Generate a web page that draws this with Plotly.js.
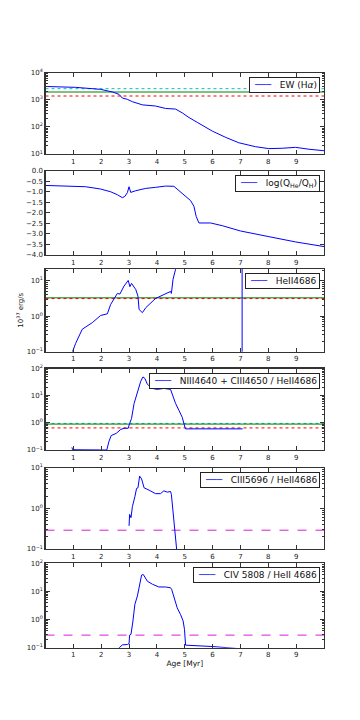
<!DOCTYPE html>
<html>
<head>
<meta charset="utf-8">
<script src="https://cdn.plot.ly/plotly-3.0.1.min.js"></script>
<style>
  html, body { margin: 0; padding: 0; background: #fff; }
  #plot { width: 360px; height: 720px; }
</style>
</head>
<body>
<div id="plot"></div>
<script>
// panel 1: EW(Halpha)
var ewAge = [0, 1.08, 1.98, 2.4, 2.64, 2.76, 2.94, 3.12, 3.48, 3.95, 4.31, 4.67, 4.91, 5.15, 5.45, 5.75, 5.99, 6.47, 6.94, 7.54, 8.02, 8.5, 8.98, 9.46, 10];
var ewVal = [3100, 2880, 2430, 1950, 1590, 1160, 1040, 850, 650, 590, 480, 455, 330, 222, 147, 100, 70, 41, 26, 18.6, 15.8, 16.3, 17.6, 15, 13.2];
var ewLines = [2570, 1940, 1380]; // cyan, green, red

// panel 2: log(Q_He/Q_H)
var qAge = [0, 1.08, 1.44, 1.98, 2.34, 2.58, 2.76, 2.85, 2.94, 3.0, 3.06, 3.24, 3.6, 3.95, 4.31, 4.61, 4.79, 5.03, 5.21, 5.33, 5.41, 5.51, 5.93, 6.35, 7.0, 8.02, 8.98, 10];
var qVal = [-0.70, -0.73, -0.76, -0.87, -1.0, -1.14, -1.28, -1.22, -1.04, -0.76, -1.03, -0.95, -0.84, -0.79, -0.73, -0.74, -0.95, -1.19, -1.42, -1.69, -2.17, -2.48, -2.48, -2.61, -2.86, -3.13, -3.38, -3.6];

// panel 3: HeII4686 luminosity
var heAge = [0.97, 1.08, 1.32, 1.68, 1.98, 2.22, 2.34, 2.5, 2.58, 2.67, 2.82, 2.97, 3.03, 3.09, 3.24, 3.32, 3.36, 3.48, 3.6, 3.95, 4.31, 4.49, 4.52, 4.58, 4.67, 4.8, 5.5, 6.5, 7.06, 7.06];
var heVal = [0.1, 0.17, 0.43, 0.66, 1.05, 1.17, 2.15, 3.3, 4.4, 4.2, 7.1, 10.2, 6.8, 8.4, 5.7, 3.7, 1.55, 1.26, 1.74, 3.16, 4.3, 5.0, 4.4, 11, 21, 40, 80, 90, 90, 0.0001];
var heLines = [3.3, 3.15]; // green, red

// panel 4: (NIII4640 + CIII4650) / HeII4686
var n3Age = [0.95, 0.97, 1.1, 1.5, 2.0, 2.2, 2.28, 2.36, 2.54, 2.70, 2.82, 2.97, 3.02, 3.09, 3.18, 3.30, 3.42, 3.5, 3.57, 3.66, 3.84, 4.01, 4.25, 4.49, 4.55, 4.67, 4.79, 4.91, 5.01, 5.03, 7.08];
var n3Val = [0.125, 0.104, 0.102, 0.101, 0.101, 0.1, 0.21, 0.34, 0.41, 0.57, 0.63, 0.63, 0.95, 1.45, 5.1, 13.8, 34, 49, 43, 26, 18.5, 17, 18.5, 17, 11, 5.2, 2.9, 1.6, 0.66, 0.6, 0.6];
var n3Lines = [0.95, 0.9, 0.65]; // cyan, green, red

// panel 5: CIII5696 / HeII4686
var c3Age = [3.0, 3.02, 3.07, 3.12, 3.21, 3.27, 3.32, 3.38, 3.45, 3.54, 3.72, 3.95, 4.13, 4.25, 4.37, 4.49, 4.52, 4.59, 4.65, 4.71, 4.75];
var c3Val = [0.37, 0.71, 0.59, 1.1, 1.94, 3.1, 3.2, 6.2, 5.3, 3.2, 2.8, 2.3, 2.3, 2.7, 2.5, 2.6, 2.2, 0.69, 0.27, 0.1, 0.05];
var c3Line = 0.29;

// panel 6: CIV5808 / HeII4686
var c4Age = [2.6, 2.76, 2.94, 3.0, 3.02, 3.07, 3.14, 3.21, 3.3, 3.36, 3.45, 3.51, 3.57, 3.66, 3.84, 4.07, 4.31, 4.49, 4.53, 4.61, 4.73, 4.85, 4.94, 4.99, 5.01, 5.03, 6.0, 6.47, 7.1];
var c4Val = [0.09, 0.126, 0.13, 0.14, 0.28, 0.3, 0.89, 3.5, 6.9, 15.5, 38, 40, 32, 23, 18, 14.4, 14.4, 13.5, 11.8, 6.3, 2.6, 1.5, 0.9, 0.45, 0.125, 0.123, 0.11, 0.1, 0.09];
var c4Line = 0.28;

var ageTicks = [1, 2, 3, 4, 5, 6, 7, 8, 9];
var qTicks = [0, -0.5, -1, -1.5, -2, -2.5, -3, -3.5, -4];

var legendNames = ['EW (H<i>α</i>)', 'log(Q<sub>He</sub>/Q<sub>H</sub>)', 'HeII4686',
    'NIII4640 + CIII4650 / HeII4686', 'CIII5696 / HeII4686', 'CIV 5808 / HeII 4686'];

var BLUE = '#0000ff', CYAN = '#00bfbf', GREEN = '#008000', RED = '#ff0000', MAG = '#d61ed6';

function sfx(i) { return i === 1 ? '' : String(i); }

function curve(i, x, y) {
    return {
        x: x, y: y, type: 'scatter', mode: 'lines',
        xaxis: 'x' + sfx(i), yaxis: 'y' + sfx(i),
        line: {color: BLUE, width: 1},
        name: legendNames[i - 1], showlegend: false
    };
}

function hline(i, val, color, dash) {
    return {
        x: [0, 10], y: [val, val], type: 'scatter', mode: 'lines',
        xaxis: 'x' + sfx(i), yaxis: 'y' + sfx(i),
        line: {color: color, width: 1, dash: dash},
        showlegend: false, hoverinfo: 'skip'
    };
}

var data = [
    hline(1, ewLines[0], CYAN, 'dot'), hline(1, ewLines[1], GREEN, 'solid'), hline(1, ewLines[2], RED, 'dot'),
    curve(1, ewAge, ewVal),
    curve(2, qAge, qVal),
    hline(3, heLines[0], GREEN, 'solid'), hline(3, heLines[1], RED, 'dot'),
    curve(3, heAge, heVal),
    hline(4, n3Lines[0], CYAN, 'dot'), hline(4, n3Lines[1], GREEN, 'solid'), hline(4, n3Lines[2], RED, 'dot'),
    curve(4, n3Age, n3Val),
    hline(5, c3Line, MAG, 'dash'),
    curve(5, c3Age, c3Val),
    hline(6, c4Line, MAG, 'dash'),
    curve(6, c4Age, c4Val)
];

// panel boxes in pixels (top, bottom)
var panels = [[72.7, 154], [170.7, 255], [268.7, 351.7], [368.5, 450], [467.7, 549], [563.3, 647.7]];
var yRanges = [[1, 4], [-4, 0], [-1, 1.34], [-1, 2], [-1, 1], [-1, 2]];
var yLog = [true, false, true, true, true, true];

var tickFont = {family: 'DejaVu Sans', size: 7, color: '#222'};
var layout = {
    width: 360, height: 720,
    margin: {l: 0, r: 0, t: 0, b: 0},
    paper_bgcolor: '#fff', plot_bgcolor: '#fff',
    font: {family: 'DejaVu Sans', size: 8, color: '#111'},
    annotations: []
};

function supMinus(n) { return n < 0 ? '\u2212' + Math.abs(n) : String(n); }

for (var i = 1; i <= 6; i++) {
    var p = panels[i - 1];
    var r = yRanges[i - 1];
    layout['xaxis' + sfx(i)] = {
        domain: [45.5 / 360, 324 / 360], anchor: 'y' + sfx(i),
        range: [0, 10], tickmode: 'array', tickvals: ageTicks,
        ticks: 'inside', ticklen: 4, tickcolor: '#333',
        showline: true, linecolor: '#333', linewidth: 1.2, mirror: 'allticks',
        showgrid: false, zeroline: false, tickfont: tickFont
    };
    var ya = {
        domain: [1 - p[1] / 720, 1 - p[0] / 720], anchor: 'x' + sfx(i),
        range: r,
        ticks: 'inside', ticklen: 4, tickcolor: '#333',
        showline: true, linecolor: '#333', linewidth: 1.2, mirror: 'allticks',
        showgrid: false, zeroline: false, tickfont: tickFont
    };
    if (yLog[i - 1]) {
        var tv = [], tt = [], mv = [];
        for (var e = Math.ceil(r[0]); e <= Math.floor(r[1]); e++) {
            tv.push(Math.pow(10, e));
            tt.push('10<sup>' + supMinus(e) + '</sup>');
        }
        for (var e2 = Math.floor(r[0]); e2 <= Math.ceil(r[1]); e2++) {
            for (var k = 2; k <= 9; k++) mv.push(k * Math.pow(10, e2));
        }
        ya.type = 'log';
        ya.tickmode = 'array'; ya.tickvals = tv; ya.ticktext = tt;
        ya.minor = {ticks: 'inside', ticklen: 2, tickmode: 'array', tickvals: mv, tickcolor: '#333', showgrid: false};
    } else {
        ya.tickmode = 'array'; ya.tickvals = qTicks; ya.tickformat = '.1f';
    }
    layout['yaxis' + sfx(i)] = ya;

    // legend box, top right of each panel
    layout.annotations.push({
        xref: 'paper', yref: 'paper',
        x: 320 / 360, xanchor: 'right',
        y: 1 - (p[0] + 4) / 720, yanchor: 'top',
        text: '\u00a0<span style="color:' + BLUE + '">\u2500\u2500\u2500</span>\u00a0\u00a0\u00a0' + legendNames[i - 1],
        showarrow: false, align: 'left',
        font: {family: 'DejaVu Sans', size: 9, color: '#111'},
        bgcolor: '#fff', bordercolor: '#222', borderwidth: 1, borderpad: 2
    });
}

layout.yaxis3.title = {text: '10<sup>37</sup> erg/s', font: {size: 7}, standoff: 2};
layout.xaxis6.title = {text: 'Age [Myr]', font: {size: 7.5}, standoff: 2};

Plotly.newPlot('plot', data, layout, {staticPlot: true});
</script>
</body>
</html>
